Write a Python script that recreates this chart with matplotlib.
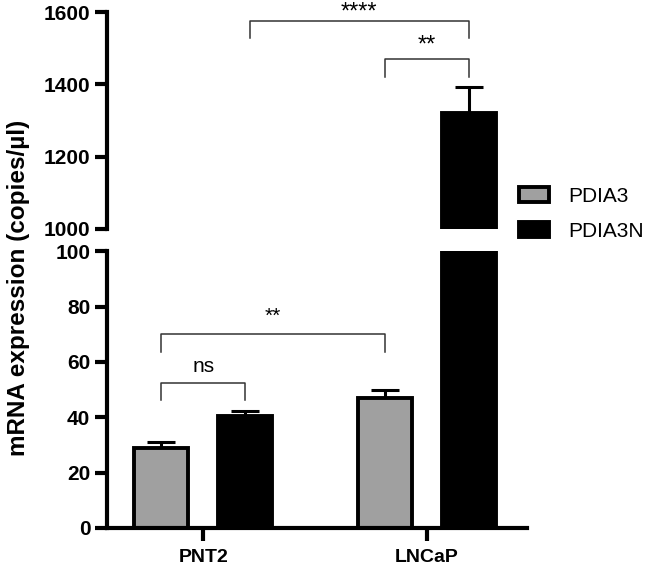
import matplotlib.pyplot as plt
import numpy as np

plt.rcParams['font.family'] = ['Liberation Sans', 'DejaVu Sans']

# data
groups = ['PNT2', 'LNCaP']
series = ['PDIA3', 'PDIA3N']
pdia3 = [29.0, 47.0]
pdia3_err = [1.9, 2.9]
pdia3n = [40.6, 1322.0]
pdia3n_err = [1.5, 72.0]
colors = ['#a0a0a0', '#000000']

x = np.arange(len(groups))
w = 0.24
off = 0.1875

fig = plt.figure(figsize=(6.45, 5.65), dpi=100)
ax_top = fig.add_axes([0.1659, 0.5947, 0.651, 0.384])
ax_bot = fig.add_axes([0.1659, 0.0655, 0.651, 0.490])

for ax in (ax_top, ax_bot):
    for i, (vals, errs) in enumerate([(pdia3, pdia3_err), (pdia3n, pdia3n_err)]):
        pos = x + (2 * i - 1) * off
        ax.bar(pos, vals, width=w, color=colors[i], edgecolor='black', linewidth=2.8,
               label=series[i], zorder=2)
        ax.errorbar(pos, vals, yerr=[np.zeros(len(vals)), errs], fmt='none',
                    ecolor='black', elinewidth=2.2, capsize=10, capthick=2.2, zorder=1)
    ax.set_xlim(-0.43, 1.446)
    ax.spines['top'].set_visible(False)
    ax.spines['right'].set_visible(False)
    ax.spines['left'].set_linewidth(3)
    ax.tick_params(axis='y', width=3, length=9, labelsize=15, pad=3)

ax_top.set_ylim(1000, 1600)
ax_top.set_yticks([1000, 1200, 1400, 1600])
ax_top.spines['bottom'].set_visible(False)
ax_top.set_xticks([])
for lab in ax_top.get_yticklabels():
    lab.set_fontweight('bold')

ax_bot.set_ylim(0, 100)
ax_bot.set_yticks([0, 20, 40, 60, 80, 100])
ax_bot.spines['bottom'].set_linewidth(3)
ax_bot.set_xticks(x)
ax_bot.set_xticklabels(groups, fontsize=14, fontweight='bold')
ax_bot.tick_params(axis='x', width=3, length=9, pad=6)
for lab in ax_bot.get_yticklabels():
    lab.set_fontweight('bold')

fig.text(0.028, 0.49, 'mRNA expression (copies/µl)', rotation=90, va='center', ha='center',
         fontsize=17.5, fontweight='bold')

# significance brackets
def bracket(ax, x1, x2, y, y1, y2, text, ty, fs):
    ax.plot([x1, x1, x2, x2], [y1, y, y, y2], color='#333333', lw=1.1, clip_on=False)
    ax.text((x1 + x2) / 2, ty, text, ha='center', va='center', fontsize=fs, clip_on=False)

bracket(ax_bot, x[0] - off, x[0] + off, 52.3, 46.2, 46.2, 'ns', 58.5, 15)
bracket(ax_bot, x[0] - off, x[1] - off, 70, 63.6, 63.6, '**', 76.5, 15)
bracket(ax_top, x[0] + off + 0.02, x[1] + off, 1576, 1528, 1528, '****', 1600, 17)
bracket(ax_top, x[1] - off, x[1] + off, 1469, 1421, 1421, '**', 1508, 17)

ax_top.legend(loc='center left', bbox_to_anchor=(0.937, 0.07), frameon=False, fontsize=15,
              handlelength=1.45, handleheight=0.7, handletextpad=0.9, labelspacing=0.75)

fig.savefig('out.png', dpi=100)
